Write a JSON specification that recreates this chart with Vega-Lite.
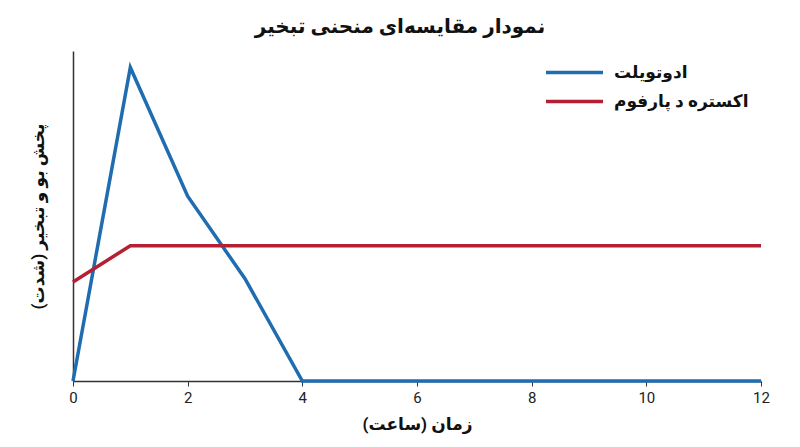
{
  "$schema": "https://vega.github.io/schema/vega-lite/v6.json",
  "width": 688,
  "height": 330,
  "autosize": {"type": "none"},
  "padding": {"left": 73, "top": 51, "right": 39, "bottom": 66},
  "background": "white",
  "config": {
    "view": {"stroke": null},
    "font": "Roboto, DejaVu Sans"
  },
  "title": {
    "text": "نمودار مقایسه‌ای منحنی تبخیر",
    "fontSize": 20,
    "fontWeight": "bold",
    "color": "#111",
    "anchor": "middle",
    "dx": -17,
    "offset": 14
  },
  "data": {
    "values": [
      {"t": 0, "v": 0, "s": "ادوتویلت"},
      {"t": 1, "v": 95, "s": "ادوتویلت"},
      {"t": 2, "v": 56, "s": "ادوتویلت"},
      {"t": 3, "v": 31, "s": "ادوتویلت"},
      {"t": 4, "v": 0, "s": "ادوتویلت"},
      {"t": 5, "v": 0, "s": "ادوتویلت"},
      {"t": 6, "v": 0, "s": "ادوتویلت"},
      {"t": 7, "v": 0, "s": "ادوتویلت"},
      {"t": 8, "v": 0, "s": "ادوتویلت"},
      {"t": 9, "v": 0, "s": "ادوتویلت"},
      {"t": 10, "v": 0, "s": "ادوتویلت"},
      {"t": 11, "v": 0, "s": "ادوتویلت"},
      {"t": 12, "v": 0, "s": "ادوتویلت"},
      {"t": 0, "v": 30, "s": "اکستره د پارفوم"},
      {"t": 1, "v": 41, "s": "اکستره د پارفوم"},
      {"t": 2, "v": 41, "s": "اکستره د پارفوم"},
      {"t": 3, "v": 41, "s": "اکستره د پارفوم"},
      {"t": 4, "v": 41, "s": "اکستره د پارفوم"},
      {"t": 5, "v": 41, "s": "اکستره د پارفوم"},
      {"t": 6, "v": 41, "s": "اکستره د پارفوم"},
      {"t": 7, "v": 41, "s": "اکستره د پارفوم"},
      {"t": 8, "v": 41, "s": "اکستره د پارفوم"},
      {"t": 9, "v": 41, "s": "اکستره د پارفوم"},
      {"t": 10, "v": 41, "s": "اکستره د پارفوم"},
      {"t": 11, "v": 41, "s": "اکستره د پارفوم"},
      {"t": 12, "v": 41, "s": "اکستره د پارفوم"}
    ]
  },
  "mark": {"type": "line", "strokeWidth": 3.5},
  "encoding": {
    "x": {
      "field": "t",
      "type": "quantitative",
      "scale": {"domain": [0, 12], "nice": false, "zero": false},
      "axis": {
        "title": "زمان (ساعت)",
        "titleFontSize": 17,
        "titleFontWeight": "bold",
        "titleColor": "#111",
        "titlePadding": 11,
        "values": [0, 2, 4, 6, 8, 10, 12],
        "labelFlush": false,
        "labelFontSize": 15,
        "labelColor": "#222",
        "labelPadding": 4,
        "tickColor": "#333",
        "tickSize": 5,
        "domainColor": "#333",
        "domainWidth": 1.5,
        "grid": false
      }
    },
    "y": {
      "field": "v",
      "type": "quantitative",
      "scale": {"domain": [0, 100], "nice": false},
      "axis": {
        "title": "پخش بو و تبخیر (شدت)",
        "titleFontSize": 17,
        "titleFontWeight": "bold",
        "titleColor": "#111",
        "titlePadding": 26,
        "labels": false,
        "ticks": false,
        "grid": false,
        "domainColor": "#333",
        "domainWidth": 1.5
      }
    },
    "color": {
      "field": "s",
      "type": "nominal",
      "scale": {
        "domain": ["ادوتویلت", "اکستره د پارفوم"],
        "range": ["#1f6db0", "#b51f33"]
      },
      "legend": {
        "title": null,
        "orient": "top-right",
        "offset": 2,
        "padding": 10,
        "symbolType": "stroke",
        "symbolSize": 3249,
        "symbolStrokeWidth": 3.5,
        "clipHeight": 19,
        "labelFontSize": 17,
        "labelFontWeight": "bold",
        "labelColor": "#111",
        "labelOffset": 9,
        "rowPadding": 10,
        "labelLimit": 300
      }
    }
  }
}
